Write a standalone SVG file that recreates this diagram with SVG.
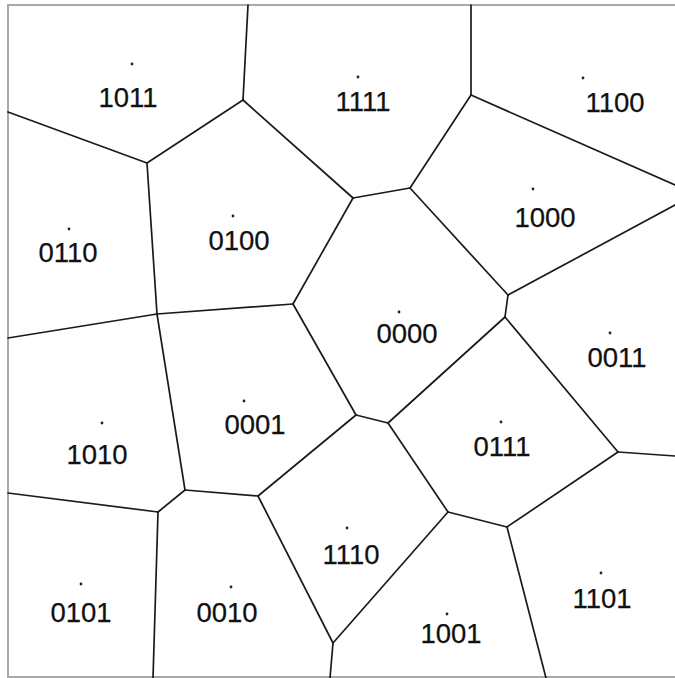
<svg xmlns="http://www.w3.org/2000/svg" width="675" height="678" viewBox="0 0 675 678">
<style>
.e{stroke:#1a1a1a;stroke-width:1.7;fill:none;stroke-linecap:round}
.d{fill:#222}
.t{font-family:'Liberation Sans',Arimo,sans-serif;font-size:27.5px;fill:#111;stroke:#111;stroke-width:0.25;text-anchor:middle}
.f{stroke:#a8a8a8;stroke-width:2;fill:none}
</style>
<rect width="675" height="678" fill="#fff"/>
<g id="frame">
<path class="f" d="M8,678 V5 H675 M8,677 H675"/>
</g>
<g id="connectors">
<path class="e" d="M248,5 L243,100"/>
<path class="e" d="M8,112 L147,163"/>
<path class="e" d="M243,100 L147,163"/>
<path class="e" d="M243,100 L353,198"/>
<path class="e" d="M147,163 L157,314"/>
<path class="e" d="M157,314 L8,338"/>
<path class="e" d="M157,314 L293,304"/>
<path class="e" d="M293,304 L353,198"/>
<path class="e" d="M353,198 L410,188"/>
<path class="e" d="M410,188 L471,95"/>
<path class="e" d="M471,95 L471,5"/>
<path class="e" d="M471,95 L675,185"/>
<path class="e" d="M410,188 L508,295"/>
<path class="e" d="M508,295 L675,205"/>
<path class="e" d="M508,295 L505,317"/>
<path class="e" d="M505,317 L388,423"/>
<path class="e" d="M505,317 L618,452"/>
<path class="e" d="M618,452 L675,456"/>
<path class="e" d="M293,304 L356,415"/>
<path class="e" d="M356,415 L388,423"/>
<path class="e" d="M356,415 L258,496"/>
<path class="e" d="M157,314 L185,490"/>
<path class="e" d="M185,490 L258,496"/>
<path class="e" d="M185,490 L158,512"/>
<path class="e" d="M158,512 L8,493"/>
<path class="e" d="M158,512 L153,678"/>
<path class="e" d="M258,496 L333,643"/>
<path class="e" d="M333,643 L330,678"/>
<path class="e" d="M333,643 L448,512"/>
<path class="e" d="M388,423 L448,512"/>
<path class="e" d="M448,512 L507,527"/>
<path class="e" d="M507,527 L618,452"/>
<path class="e" d="M507,527 L546,678"/>
</g>
<g id="n1011"><circle class="d" cx="132" cy="64" r="1.4"/><text class="t" x="128" y="107">1011</text></g>
<g id="n1111"><circle class="d" cx="358" cy="77" r="1.4"/><text class="t" x="363" y="111">1111</text></g>
<g id="n1100"><circle class="d" cx="583" cy="78" r="1.4"/><text class="t" x="615" y="112">1100</text></g>
<g id="n0110"><circle class="d" cx="69" cy="229" r="1.4"/><text class="t" x="68" y="262">0110</text></g>
<g id="n0100"><circle class="d" cx="233" cy="216" r="1.4"/><text class="t" x="239" y="250">0100</text></g>
<g id="n1000"><circle class="d" cx="533" cy="189" r="1.4"/><text class="t" x="545" y="227">1000</text></g>
<g id="n0000"><circle class="d" cx="399" cy="312" r="1.4"/><text class="t" x="407" y="343">0000</text></g>
<g id="n0011"><circle class="d" cx="610" cy="333" r="1.4"/><text class="t" x="617" y="367">0011</text></g>
<g id="n1010"><circle class="d" cx="102" cy="423" r="1.4"/><text class="t" x="97" y="464">1010</text></g>
<g id="n0001"><circle class="d" cx="244" cy="401" r="1.4"/><text class="t" x="255" y="434">0001</text></g>
<g id="n0111"><circle class="d" cx="501" cy="422" r="1.4"/><text class="t" x="502" y="456">0111</text></g>
<g id="n1110"><circle class="d" cx="347" cy="528" r="1.4"/><text class="t" x="351" y="564">1110</text></g>
<g id="n0101"><circle class="d" cx="81" cy="584" r="1.4"/><text class="t" x="81" y="622">0101</text></g>
<g id="n0010"><circle class="d" cx="231" cy="587" r="1.4"/><text class="t" x="227" y="622">0010</text></g>
<g id="n1001"><circle class="d" cx="447" cy="614" r="1.4"/><text class="t" x="451" y="643">1001</text></g>
<g id="n1101"><circle class="d" cx="601" cy="573" r="1.4"/><text class="t" x="602" y="608">1101</text></g>
</svg>
